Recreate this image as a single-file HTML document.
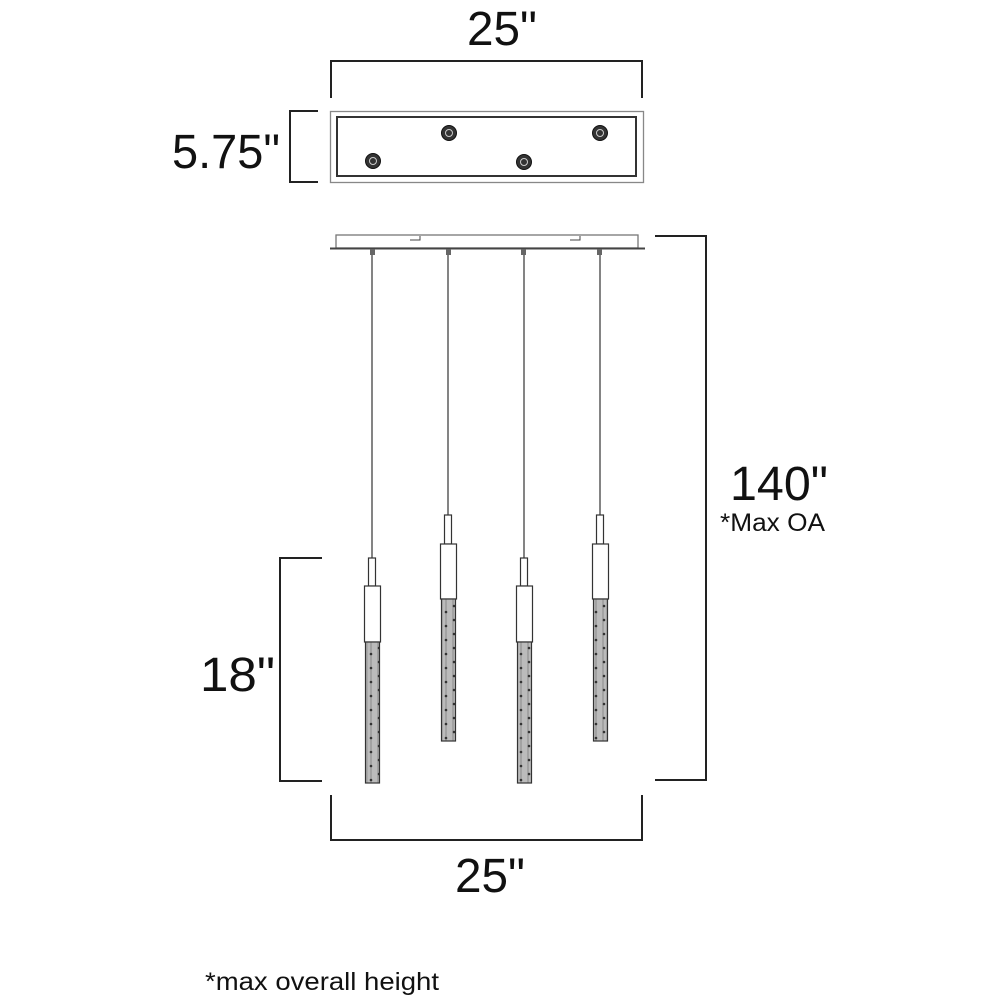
<!DOCTYPE html>
<html><head><meta charset="utf-8"><style>html,body{margin:0;padding:0;background:#fff}svg{display:block}</style></head>
<body>
<svg width="1000" height="1000" viewBox="0 0 1000 1000" xmlns="http://www.w3.org/2000/svg" font-family="Liberation Sans, sans-serif" fill="#111">
<g fill="none" stroke="#222" stroke-width="2">
<path d="M331 98 V61 H642 V98"/>
<path d="M318 111 H290 V182 H318"/>
<path d="M655 236 H706 V780 H655"/>
<path d="M322 558 H280 V781 H322"/>
<path d="M331 795 V840 H642 V795"/>
</g>
<text x="502" y="45" font-size="48" text-anchor="middle" textLength="70" lengthAdjust="spacingAndGlyphs">25"</text>
<text x="172" y="168" font-size="48" textLength="108" lengthAdjust="spacingAndGlyphs">5.75"</text>
<text x="730" y="500" font-size="48" textLength="98" lengthAdjust="spacingAndGlyphs">140"</text>
<text x="720" y="531" font-size="25" textLength="105" lengthAdjust="spacingAndGlyphs">*Max OA</text>
<text x="200" y="691" font-size="48" textLength="75" lengthAdjust="spacingAndGlyphs">18"</text>
<text x="490" y="892" font-size="48" text-anchor="middle" textLength="70" lengthAdjust="spacingAndGlyphs">25"</text>
<text x="205" y="990" font-size="25" textLength="234" lengthAdjust="spacingAndGlyphs">*max overall height</text>
<!-- canopy top -->
<rect x="330.5" y="111.5" width="313" height="71" fill="none" stroke="#888" stroke-width="1.3"/>
<rect x="337" y="117" width="299" height="59" fill="none" stroke="#333" stroke-width="2"/>
<g fill="#333" stroke="#111" stroke-width="1">
<circle cx="373" cy="161" r="7.5"/><circle cx="449" cy="133" r="7.5"/><circle cx="524" cy="162" r="7.5"/><circle cx="600" cy="133" r="7.5"/>
</g>
<g fill="none" stroke="#ccc" stroke-width="1">
<circle cx="373" cy="161" r="3.5"/><circle cx="449" cy="133" r="3.5"/><circle cx="524" cy="162" r="3.5"/><circle cx="600" cy="133" r="3.5"/>
</g>
<!-- canopy side -->
<rect x="336" y="235" width="302" height="13" fill="none" stroke="#777" stroke-width="1.3"/>
<line x1="330" y1="248.5" x2="645" y2="248.5" stroke="#444" stroke-width="2"/>
<path d="M410 240 H420 V236 M570 240 H580 V236" fill="none" stroke="#444" stroke-width="1"/>
<g fill="#666"><rect x="370" y="249" width="5" height="6"/><rect x="446" y="249" width="5" height="6"/><rect x="521" y="249" width="5" height="6"/><rect x="597" y="249" width="5" height="6"/></g>
<!-- pendants -->
<defs>
<pattern id="g" width="15" height="14" patternUnits="userSpaceOnUse">
<rect width="15" height="14" fill="#bbb"/>
<line x1="3" y1="0" x2="3" y2="14" stroke="#888"/><line x1="7" y1="0" x2="7" y2="14" stroke="#999"/><line x1="11" y1="0" x2="11" y2="14" stroke="#888"/>
<circle cx="4" cy="4" r="1.3" fill="#333"/><circle cx="11" cy="10" r="1.3" fill="#333"/>
</pattern>
</defs>
<g stroke="#333" stroke-width="1.2" fill="#fff">
<line x1="372" y1="255" x2="372" y2="558"/>
<rect x="368.5" y="558" width="7" height="28"/>
<rect x="364.5" y="586" width="16" height="56"/>
<rect x="365.5" y="642" width="14" height="141" fill="url(#g)"/>
<line x1="448" y1="255" x2="448" y2="515"/>
<rect x="444.5" y="515" width="7" height="29"/>
<rect x="440.5" y="544" width="16" height="55"/>
<rect x="441.5" y="599" width="14" height="142" fill="url(#g)"/>
<line x1="524" y1="255" x2="524" y2="558"/>
<rect x="520.5" y="558" width="7" height="28"/>
<rect x="516.5" y="586" width="16" height="56"/>
<rect x="517.5" y="642" width="14" height="141" fill="url(#g)"/>
<line x1="600" y1="255" x2="600" y2="515"/>
<rect x="596.5" y="515" width="7" height="29"/>
<rect x="592.5" y="544" width="16" height="55"/>
<rect x="593.5" y="599" width="14" height="142" fill="url(#g)"/>
</g>
</svg>
</body></html>
